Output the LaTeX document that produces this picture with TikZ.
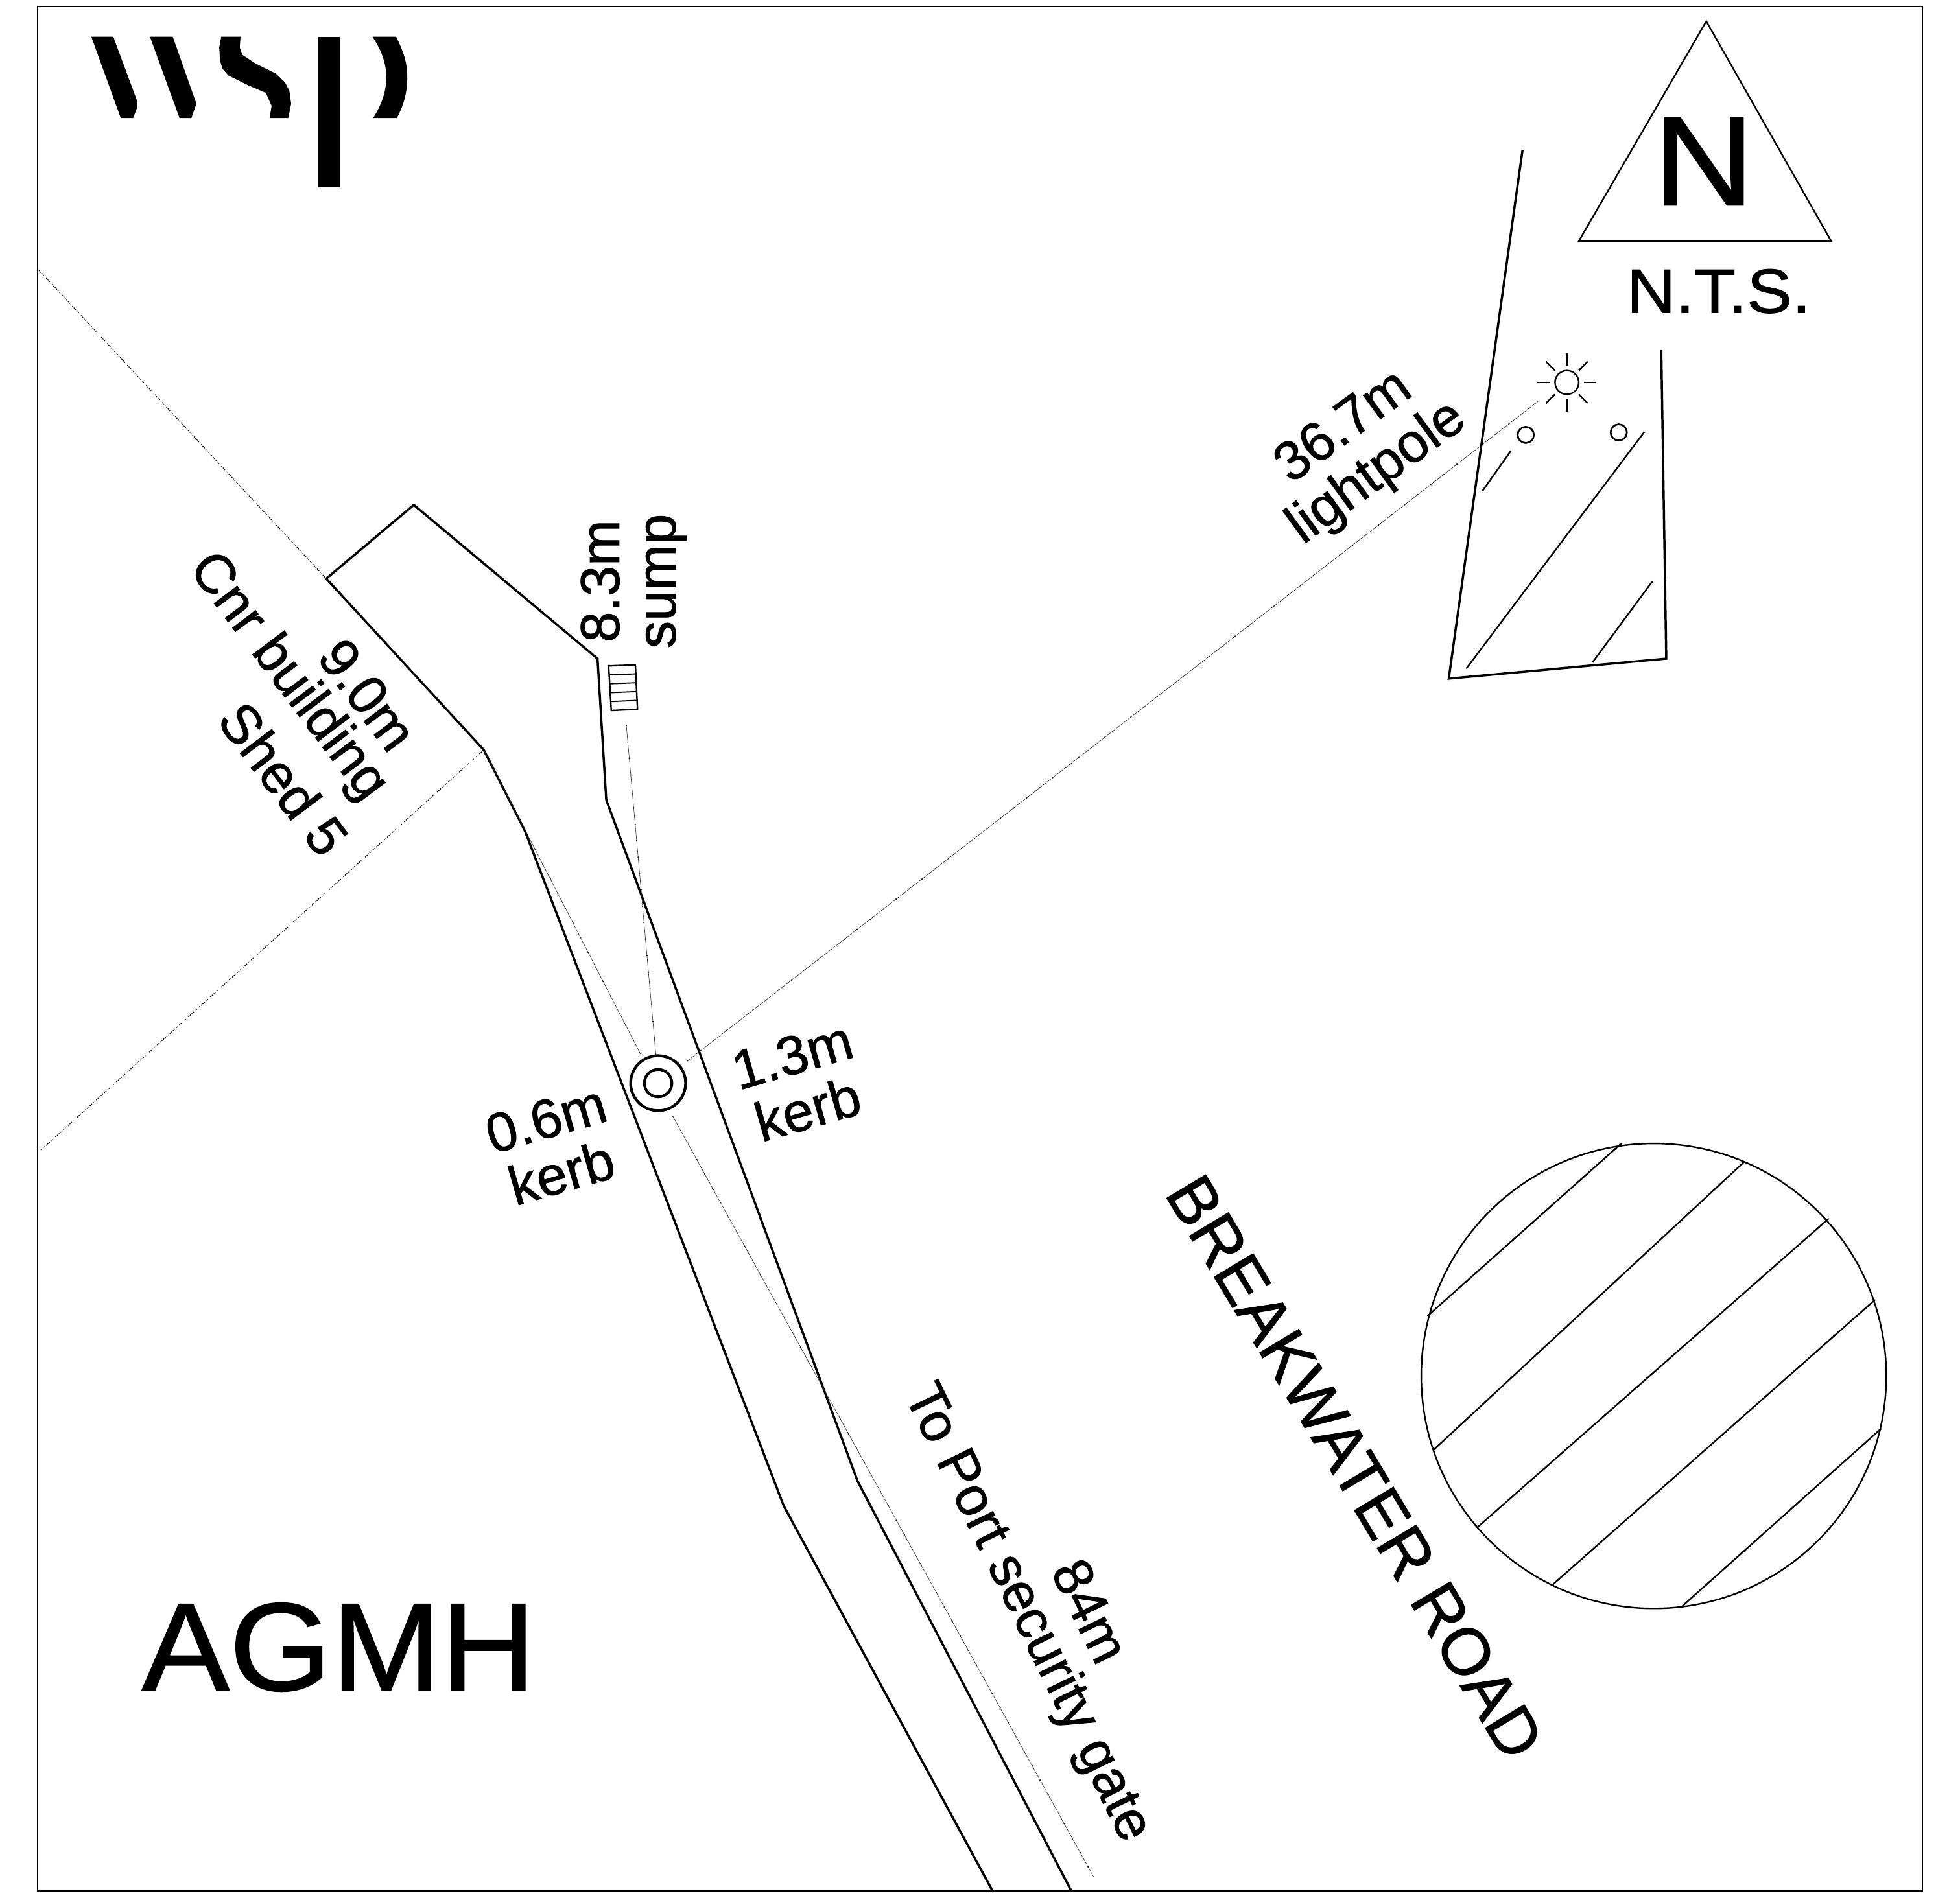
\documentclass[tikz,border=0pt]{standalone}
\usepackage{fontspec}
\usetikzlibrary{calc}
\setmainfont{Liberation Sans}[FakeBold=1]
\tikzset{
  mainline/.style={line width=1.8pt, line join=miter},
  thinline/.style={line width=1.25pt},
  leader/.style={line width=.32pt, black!85, preaction={draw, black, line width=.9pt, dash pattern=on .7pt off 12.5pt}},
  dotline/.style={line width=.6pt, dash pattern=on .8pt off .9pt},
  dotgap/.style={line width=.6pt, dash pattern=on .8pt off .9pt on .8pt off .9pt on .8pt off .9pt on .8pt off .9pt on .8pt off .9pt on .8pt off .9pt on .8pt off .9pt on .8pt off .9pt on .8pt off .9pt on .8pt off .9pt on .8pt off .9pt on .8pt off .9pt on .8pt off .9pt on .8pt off .9pt on .8pt off .9pt on .8pt off .9pt on .8pt off .9pt on .8pt off .9pt on .8pt off .9pt on .8pt off .9pt on .8pt off 4pt},
  lbl/.style={inner sep=0pt, align=center, font=\fontsize{44}{45}\selectfont},
  roundmark/.style={circle, draw, inner sep=0pt, line width=#1},
  logo/.style={fill=black, draw=none}
}
\begin{document}
\begin{tikzpicture}[x=1pt,y=-1pt]
\useasboundingbox (0,0) rectangle (1568,1518.7);
% frame
\draw[line width=1.1pt] (30,5) rectangle (1538,1513);
% logo
\fill[logo] (73.1,29.4) -- (90.6,29.4) -- (109.9,81.3) -- (109.9,85.6) -- (106.5,94.4) -- (96.6,94.4) -- cycle;
\fill[logo] (120,29.4) -- (138.2,29.4) -- (157.1,83) -- (153.1,94.4) -- (143.6,94.4) -- cycle;
\fill[logo] (177,29.4) -- (192.4,29.4) -- (191.8,38) -- (194,44) -- (204.7,51) -- (220.6,58.8) -- (228,66) -- (231.5,72.6) -- (232.9,83) -- (230.6,94.4) -- (215.7,94.4) -- (217.3,84.7) -- (212.7,74.3) -- (198.8,68.3) -- (182.9,60.5) -- (178,55) -- (176,48.4) -- (175.4,38) -- cycle;
\fill[logo] (254.8,29.4) rectangle (271.6,150);
\fill[logo] (298,29.4) -- (316.9,29.4) .. controls (323,42) and (325.8,50) .. (325.8,62) .. controls (325.8,74) and (323,84) .. (317.5,94.4) -- (298.6,94.4) .. controls (305,84) and (309,74) .. (309,62) .. controls (309,50) and (305,40) .. (298,29.4) -- cycle;
% north
\coordinate (t1) at (1365,17);
\coordinate (t2) at (1465,193);
\coordinate (t3) at (1263,193);
\draw[thinline] (t1) -- (t2) -- (t3) -- cycle;
\node[inner sep=0pt, xscale=1.1, font=\fontsize{102}{102}\selectfont] (north) at (1363,129) {N};
\node[inner sep=0pt, xscale=1.08, font=\fontsize{50}{50}\selectfont] (nts) at (1375,233) {N.T.S.};
% kerb lines
\coordinate (b1) at (261,463);
\coordinate (b2) at (331,404);
\coordinate (b3) at (478,527);
\coordinate (b4) at (485,640);
\coordinate (b5) at (686,1185);
\coordinate (b6) at (857,1513);
\coordinate (c2) at (387,600);
\coordinate (c3) at (420,665);
\coordinate (c4) at (627,1205);
\coordinate (c5) at (794,1513);
\draw[mainline] (b1) -- (b2) -- (b3) -- (b4) -- (b5) -- (b6);
\draw[mainline] (b1) -- (c2) -- (c3) -- (c4) -- (c5);
% building lines
\coordinate (d1) at (30,215);
\coordinate (d2) at (33,920);
\draw[dotline] (d1) -- (b1);
\draw[dotgap] (d2) -- (c2);
% sump
\coordinate (s1) at (486.9,532.8);
\coordinate (s2) at (508.3,532.1);
\coordinate (s3) at (510,567.5);
\coordinate (s4) at (489,568.5);
\draw[thinline] (s1) -- (s2) -- (s3) -- (s4) -- cycle;
\foreach \t in {.2,.4,.6,.8}
  \draw[line width=1pt] ($(s1)!\t!(s4)$) -- ($(s2)!\t!(s3)$);
% pit
\node[roundmark=2.2pt, minimum size=44pt] (pit) at (526.5,866.7) {};
\node[roundmark=2.2pt, minimum size=22pt] (pitc) at (526.5,866.7) {};
% lightpole
\node[roundmark=1.25pt, minimum size=19pt] (sun) at (1253.5,306) {};
\foreach \a in {0,45,...,315}
  \draw[thinline] ($(sun)+(\a:13.5)$) -- ($(sun)+(\a:23.5)$);
% leaders
\coordinate (l1a) at (549.8,849);
\coordinate (l1b) at (1231,320.7);
\coordinate (l2a) at (524.7,843.9);
\coordinate (l2b) at (501,580);
\coordinate (l3a) at (513,844.5);
\coordinate (l4a) at (538,892.8);
\coordinate (l4b) at (875,1502);
\draw[leader] (l1a) -- (l1b);
\draw[leader] (l2a) -- (l2b);
\draw[leader] (l3a) -- (c2);
\draw[leader] (l4a) -- (l4b);
% carpark island
\coordinate (i1) at (1218,120);
\coordinate (i2) at (1159,543);
\coordinate (i3) at (1333,527);
\coordinate (i4) at (1329,280);
\draw[mainline] (i1) -- (i2) -- (i3) -- (i4);
\node[roundmark=1.4pt, minimum size=13pt] (p1) at (1220.6,348) {};
\node[roundmark=1.4pt, minimum size=13pt] (p2) at (1295,346) {};
\coordinate (h1a) at (1186,392.8);
\coordinate (h1b) at (1208.5,361);
\coordinate (h2a) at (1173,535);
\coordinate (h2b) at (1315.3,345.8);
\coordinate (h3a) at (1274,530);
\coordinate (h3b) at (1322,465);
\draw[thinline] (h1a) -- (h1b);
\draw[thinline] (h2a) -- (h2b);
\draw[thinline] (h3a) -- (h3b);
% roundabout
\node[roundmark=1.25pt, minimum size=372pt] (round) at (1323,1101) {};
\coordinate (r1a) at (1142,1053); \coordinate (r1b) at (1297,915);
\coordinate (r2a) at (1147,1160); \coordinate (r2b) at (1395,930);
\coordinate (r3a) at (1182,1222); \coordinate (r3b) at (1463,975);
\coordinate (r4a) at (1241,1269); \coordinate (r4b) at (1500,1040);
\coordinate (r5a) at (1346,1285); \coordinate (r5b) at (1505,1143);
\foreach \n in {1,...,5}
  \draw[thinline] (r\n a) -- (r\n b);
% labels
\node[lbl, rotate=36] (t367) at (1089,361) {36.7m\\lightpole};
\node[lbl, rotate=90] (t83) at (507,465) {8.3m\\sump};
\node[lbl, rotate=-53] (t90a) at (294,556) {9.0m};
\node[lbl, rotate=-53] (t90b) at (230,542) {Cnr building};
\node[lbl, rotate=-53] (t90c) at (227,623) {Shed 5};
\node[lbl, rotate=16] (t13) at (640,866) {1.3m\\kerb};
\node[lbl, rotate=16] (t06) at (443,917) {0.6m\\kerb};
\node[lbl, rotate=-64] (t84a) at (872.5,1289) {84m};
\node[lbl, rotate=-64] (t84b) at (821,1291) {To Port security gate};
\node[inner sep=0pt, rotate=-59, font=\fontsize{53}{53}\selectfont] (road) at (1084,1174) {BREAKWATER ROAD};
\node[inner sep=0pt, xscale=1.05, font=\fontsize{100}{100}\selectfont] (agmh) at (271,1318) {AGMH};
\end{tikzpicture}
\end{document}
